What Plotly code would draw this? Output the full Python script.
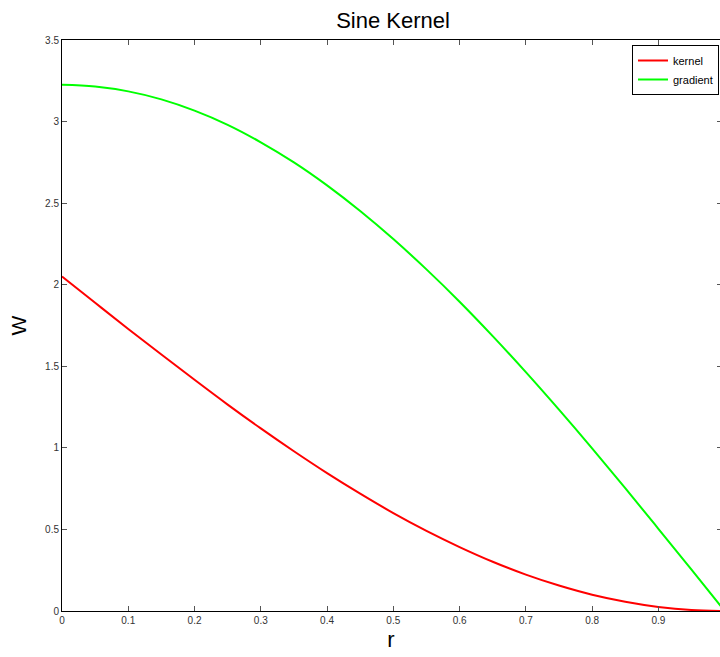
import plotly.graph_objects as go

r_vals = [0.0, 0.05, 0.1, 0.15, 0.2, 0.25, 0.3, 0.35, 0.4, 0.45, 0.5,
          0.55, 0.6, 0.65, 0.7, 0.75, 0.8, 0.85, 0.9, 0.95, 1.0]
kernel = [2.050, 1.889, 1.729, 1.572, 1.417, 1.265, 1.119, 0.979, 0.845, 0.719, 0.600,
          0.491, 0.392, 0.302, 0.223, 0.156, 0.100, 0.057, 0.025, 0.006, 0.0]
gradient = [3.225, 3.215, 3.185, 3.136, 3.067, 2.980, 2.873, 2.750, 2.609, 2.452, 2.280,
            2.094, 1.896, 1.685, 1.464, 1.234, 0.997, 0.753, 0.504, 0.253, 0.0]
x_ticks = [0, 0.1, 0.2, 0.3, 0.4, 0.5, 0.6, 0.7, 0.8, 0.9]
x_labels = ["0", "0.1", "0.2", "0.3", "0.4", "0.5", "0.6", "0.7", "0.8", "0.9"]
y_ticks = [0, 0.5, 1, 1.5, 2, 2.5, 3, 3.5]
y_labels = ["0", "0.5", "1", "1.5", "2", "2.5", "3", "3.5"]

FONT = "Liberation Sans, Arial, Helvetica, sans-serif"

fig = go.Figure()
fig.add_trace(go.Scatter(x=r_vals, y=kernel, mode="lines", name="kernel",
                         line=dict(color="#ff0000", width=2, shape="spline", smoothing=1.0)))
fig.add_trace(go.Scatter(x=r_vals, y=gradient, mode="lines", name="gradient",
                         line=dict(color="#00ff00", width=2, shape="spline", smoothing=1.0)))
# invisible trace for right-side mirror ticks
fig.add_trace(go.Scatter(x=[0], y=[0], yaxis="y2", mode="markers",
                         marker=dict(opacity=0), showlegend=False, hoverinfo="skip"))

fig.update_layout(
    width=720, height=657,
    margin=dict(l=62, r=0, t=40, b=46),
    paper_bgcolor="white", plot_bgcolor="white",
    font=dict(family=FONT, size=10, color="#333333"),
    title=dict(text="Sine Kernel", x=393/720, xanchor="center",
               y=1 - 20/657, yanchor="middle", yref="container",
               font=dict(family=FONT, size=22, color="#000000")),
    xaxis=dict(range=[0, 0.993], tickvals=x_ticks, ticktext=x_labels,
               ticks="inside", ticklen=5, tickcolor="#555555",
               showline=True, linecolor="#000000", linewidth=1, mirror="ticks",
               showgrid=False, zeroline=False,
               title=dict(text="r", font=dict(family=FONT, size=22, color="#000000"), standoff=6),
               tickfont=dict(size=10, color="#333333")),
    yaxis=dict(range=[0, 3.5], tickvals=y_ticks, ticktext=y_labels,
               ticks="inside", ticklen=5, tickcolor="#555555",
               showline=True, linecolor="#000000", linewidth=1,
               showgrid=False, zeroline=False,
               title=dict(text="W", font=dict(family=FONT, size=21, color="#000000"), standoff=12),
               tickfont=dict(size=10, color="#333333")),
    yaxis2=dict(range=[0, 3.5], overlaying="y", side="right", tickvals=y_ticks,
                ticks="inside", ticklen=3, tickcolor="#555555",
                showticklabels=False, showline=False, showgrid=False, zeroline=False),
    legend=dict(x=(719-62)/658, xanchor="right", y=1 - 5/571, yanchor="top",
                bgcolor="white", bordercolor="#000000", borderwidth=1,
                font=dict(family=FONT, size=11, color="#000000"),
                itemwidth=30, tracegroupgap=0),
    showlegend=True,
)

fig.write_html("out.html")
